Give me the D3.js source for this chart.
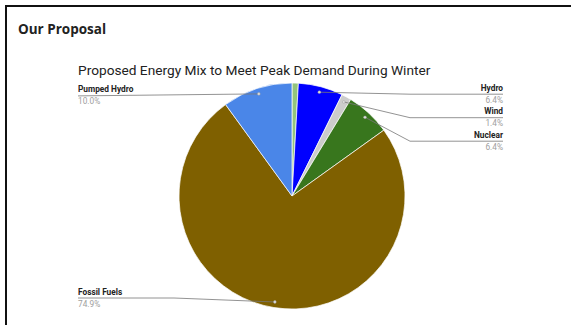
<!DOCTYPE html>
<html>
<head>
<meta charset="utf-8">
<script src="https://cdn.jsdelivr.net/npm/d3@7"></script>
<style>
  body { margin: 0; background: #fff; }
  svg { display: block; font-family: Roboto, "Noto Sans", sans-serif; }
</style>
</head>
<body>
<div id="chart"></div>
<script>
// data (clockwise from 12 o'clock)
var sources = ["Solar", "Hydro", "Wind", "Nuclear", "Fossil Fuels", "Pumped Hydro"];
var shares = [0.9, 6.4, 1.4, 6.4, 74.9, 10.0];
var colors = ["#93c47d", "#0000ff", "#cccccc", "#38761d", "#7f6000", "#4a86e8"];

var W = 571, H = 325;
var cx = 292, cy = 196, R = 113;

var svg = d3.select("#chart")
    .append("svg")
        .attr("width", W)
        .attr("height", H);

// card frame (only top and left edges show)
svg.append("path")
    .attr("d", "M6," + H + "V6H" + W)
    .attr("fill", "none")
    .attr("stroke", "#111")
    .attr("stroke-width", 2);

svg.append("text")
    .attr("x", 18)
    .attr("y", 34)
    .style("font-family", "'Open Sans', sans-serif")
    .style("font-size", "13.5px")
    .style("font-weight", "bold")
    .attr("fill", "#222")
    .text("Our Proposal");

svg.append("text")
    .attr("x", 78)
    .attr("y", 75)
    .style("font-size", "13.7px")
    .attr("fill", "#222")
    .text("Proposed Energy Mix to Meet Peak Demand During Winter");

var data = sources.map(function(s, i) {
    return { name: s, value: shares[i], color: colors[i] };
});

var pie = d3.pie()
    .sort(null)
    .value(function(d) { return d.value; });

var arc = d3.arc()
    .innerRadius(0)
    .outerRadius(R);

var arcs = pie(data);

var g = svg.append("g")
    .attr("transform", "translate(" + cx + "," + cy + ")");

g.selectAll(".slice")
    .data(arcs)
    .enter().append("path")
    .attr("class", "slice")
    .attr("d", arc)
    .attr("fill", function(d) { return d.data.color; })
    .attr("stroke", "#fff")
    .attr("stroke-width", 0.7);

// labels: only slices of 1% or more get one
var dotArc = d3.arc().innerRadius(R * 0.95).outerRadius(R * 0.95);
var labelled = arcs.filter(function(d) { return d.data.value >= 1; }).map(function(d) {
    var c = dotArc.centroid(d);
    var mid = (d.startAngle + d.endAngle) / 2;
    return { d: d, x: cx + c[0], y: cy + c[1], right: mid < Math.PI };
});

// stack labels on each side so they don't collide
var gap = 23.5, bottom = 298;
[true, false].forEach(function(side) {
    var list = labelled.filter(function(l) { return l.right === side; })
        .sort(function(a, b) { return a.y - b.y; });
    var prev = -Infinity;
    list.forEach(function(l) {
        l.ly = Math.min(bottom, Math.max(l.y + 2, prev + gap));
        prev = l.ly;
    });
});

var leftX = 78, rightX = 503;
var lab = svg.selectAll(".lab")
    .data(labelled)
    .enter().append("g")
    .attr("class", "lab");

lab.append("path")
    .attr("fill", "none")
    .attr("stroke", "#777")
    .attr("stroke-width", 0.8)
    .attr("d", function(l) {
        var elbow = l.right ? cx + R + 5 : cx - R - 5;
        var end = l.right ? rightX : leftX;
        if (!l.right && Math.abs(l.ly - l.y) < 3) {
            return "M" + l.x + "," + l.y + "L" + end + "," + l.ly;
        }
        return "M" + l.x + "," + l.y + "L" + elbow + "," + l.ly + "H" + end;
    });

lab.append("circle")
    .attr("cx", function(l) { return l.x; })
    .attr("cy", function(l) { return l.y; })
    .attr("r", 1.4)
    .attr("fill", "#ddd")
    .attr("stroke", "#999")
    .attr("stroke-width", 0.4);

lab.append("text")
    .attr("x", function(l) { return l.right ? rightX : leftX; })
    .attr("y", function(l) { return l.ly - 3.5; })
    .attr("text-anchor", function(l) { return l.right ? "end" : "start"; })
    .style("font-size", "8.3px")
    .style("font-weight", "bold")
    .attr("fill", "#222")
    .text(function(l) { return l.d.data.name; });

lab.append("text")
    .attr("x", function(l) { return l.right ? rightX : leftX; })
    .attr("y", function(l) { return l.ly + 8.5; })
    .attr("text-anchor", function(l) { return l.right ? "end" : "start"; })
    .style("font-size", "8.3px")
    .attr("fill", "#9e9e9e")
    .text(function(l) { return l.d.data.value.toFixed(1) + "%"; });
</script>
</body>
</html>
